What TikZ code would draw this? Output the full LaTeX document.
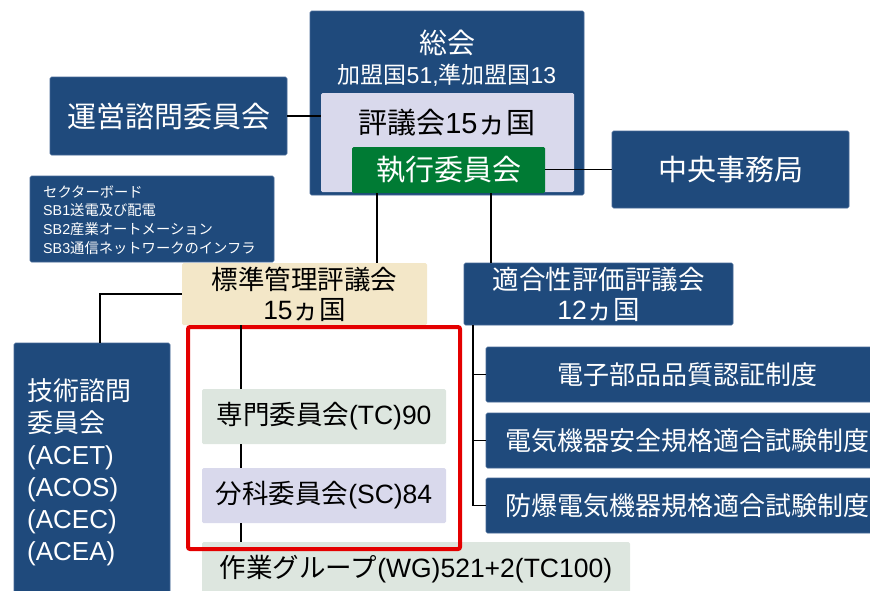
\documentclass[tikz,border=0pt]{standalone}
\usepackage{fontspec}
\setmainfont{Liberation Sans}
\newfontfamily\jp{Noto Sans CJK JP}
\definecolor{navy}{RGB}{31,74,124}
\definecolor{navyedge}{RGB}{70,105,150}
\definecolor{lavender}{RGB}{217,217,236}
\definecolor{sage}{RGB}{221,230,223}
\definecolor{sand}{RGB}{243,231,200}
\definecolor{execgreen}{RGB}{0,123,52}
\definecolor{alert}{RGB}{228,0,0}
\begin{document}
\begin{tikzpicture}[x=1pt,y=-1pt,
  box/.style={rectangle, inner sep=0pt, rounded corners=1.5pt},
  darkbox/.style={box, fill=navy, draw=navyedge, line width=0.6pt, text=white},
  lightbox/.style={box, fill=#1},
  big/.style={font=\fontsize{29}{33}\selectfont},
  cert/.style={font=\fontsize{26}{30}\selectfont},
  mid/.style={font=\fontsize{26.5}{30}\selectfont},
  link/.style={draw=black, line width=1.3pt}]
\useasboundingbox (0,0) rectangle (870,590);

% General assembly with the council and executive committee inside
\node[darkbox, minimum width=274pt, minimum height=184pt] (assembly) at (447,103) {};
\node[lightbox=lavender, minimum width=253pt, minimum height=99pt] (council) at (447.5,142.5) {};
\node[box, fill=execgreen, text=white, minimum width=193pt, minimum height=46pt, big] (exec) at (448.5,170) {\jp 執行委員会};
\node[text=white, font=\fontsize{28}{32}\selectfont] (asmtitle) at (447,43) {\jp 総会};
\node[text=white, font=\fontsize{23}{27}\selectfont] (members) at (447,75) {{\jp 加盟国}51,{\jp 準加盟国}13};
\node[big] (counciltitle) at (447,123) {{\jp 評議会}15{\jp ヵ国}};

% Side bodies
\node[darkbox, minimum width=237pt, minimum height=78pt, big] (advisory) at (168.5,116) {\jp 運営諮問委員会};
\node[darkbox, minimum width=237pt, minimum height=77pt, big] (office) at (730.5,169.5) {\jp 中央事務局};
\node[darkbox, minimum width=244pt, minimum height=86pt] (sector) at (152,219) {};
\node[text=white, anchor=west, align=left, inner sep=0pt,
      font=\fontsize{14.3}{18.7}\selectfont] (sectortext) at (43,220)
  {{\jp セクターボード}\\SB1{\jp 送電及び配電}\\SB2{\jp 産業オートメーション}\\SB3{\jp 通信ネットワークのインフラ}};

% Management boards
\node[lightbox=sand, minimum width=245pt, minimum height=62pt, mid, align=center] (smb) at (304.5,294)
  {{\jp 標準管理評議会}\\[0pt]15{\jp ヵ国}};
\node[darkbox, minimum width=269pt, minimum height=62pt, mid, align=center] (cab) at (598.5,294)
  {{\jp 適合性評価評議会}\\[0pt]12{\jp ヵ国}};

% Technical advisory committees
\node[darkbox, minimum width=156pt, minimum height=257pt] (tac) at (92,471.5) {};
\node[text=white, anchor=north west, align=left, inner sep=0pt,
      font=\fontsize{26}{32}\selectfont] (tactext) at (27,378)
  {{\jp 技術諮問}\\{\jp 委員会}\\(ACET)\\(ACOS)\\(ACEC)\\(ACEA)};

% Technical work chain
\node[lightbox=sage, minimum width=244pt, minimum height=55pt, mid] (tc) at (324,416.5) {{\jp 専門委員会}(TC)90};
\node[lightbox=lavender, minimum width=244pt, minimum height=55pt, mid] (sc) at (324,495.5) {{\jp 分科委員会}(SC)84};
\node[lightbox=sage, minimum width=428pt, minimum height=58pt] (wg) at (416,571) {};
\node[mid] (wgtext) at (416,569) {{\jp 作業グループ}(WG)521+2(TC100)};
\node[draw=alert, line width=4pt, rounded corners=2pt, minimum width=272pt, minimum height=222pt] (focus) at (324,438) {};

% Conformity assessment systems
\node[darkbox, minimum width=402pt, minimum height=55pt, cert] (iecq) at (687,374.5) {\jp 電子部品品質認証制度};
\node[darkbox, minimum width=402pt, minimum height=55pt, cert] (iecee) at (687,440.5) {\jp 電気機器安全規格適合試験制度};
\node[darkbox, minimum width=402pt, minimum height=55pt, cert] (iecex) at (687,505.5) {\jp 防爆電気機器規格適合試験制度};

% Connector rails
\coordinate (railA) at (377,0);
\coordinate (railB) at (491,0);
\coordinate (railC) at (100,0);
\coordinate (railD) at (241,0);
\coordinate (railE) at (473,0);

% Connectors
\draw[link] (advisory.east) -- (advisory.east -| council.west);
\draw[link] (exec.east |- office.west) -- (office.west);
\draw[link] (exec.south -| railA) -- (smb.north -| railA);
\draw[link] (exec.south -| railB) -- (cab.north -| railB);
\draw[link] (smb.west) -| (railC |- tac.north);
\draw[link] (smb.south -| railD) -- (tc.north -| railD);
\draw[link] (tc.south -| railD) -- (sc.north -| railD);
\draw[link] (sc.south -| railD) -- (wg.north -| railD);
\draw[link] (cab.south -| railE) |- (iecex.west);
\draw[link] (railE |- iecq.west) -- (iecq.west);
\draw[link] (railE |- iecee.west) -- (iecee.west);
\end{tikzpicture}
\end{document}
